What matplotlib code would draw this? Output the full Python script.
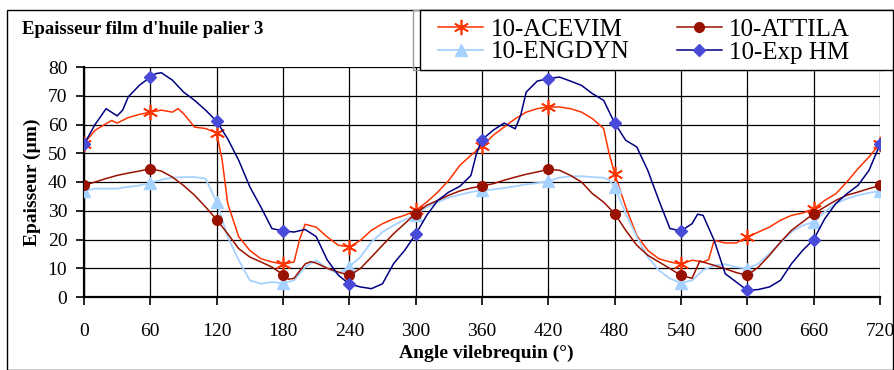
import numpy as np
import matplotlib
matplotlib.use("Agg")
import matplotlib.pyplot as plt
from matplotlib.patches import Rectangle

plt.rcParams['font.family'] = ['Liberation Serif', 'DejaVu Serif']

# donnees (angle en degres, epaisseur en um)
acevim_angle = [0, 10, 20, 25, 30, 40, 50, 60, 70, 80, 85, 90, 100, 110, 120, 125, 130, 140, 150, 160,
                170, 180, 190, 195, 200, 210, 220, 230, 240, 250, 260, 270, 280, 290, 300, 310, 320, 330,
                340, 350, 360, 370, 380, 390, 400, 410, 420, 430, 440, 450, 460, 470, 475, 480, 490, 500,
                510, 520, 530, 540, 550, 560, 565, 570, 580, 590, 600, 610, 620, 630, 640, 650, 660, 670,
                680, 690, 700, 710, 720]
acevim = [53.3, 58, 60.3, 61.4, 60.5, 62.4, 63.5, 64.3, 65, 64.3, 65.5, 63.8, 59.1, 58.6, 57, 47.5, 32.5, 20.9,
          16.2, 13.3, 12.2, 11.4, 12.2, 20, 25.3, 24.3, 20.9, 18, 17.4, 19.7, 23.2, 25.5, 27.2, 28.4, 30.1,
          33, 36.5, 40.6, 45.8, 49.3, 52.4, 56.2, 59.1, 62, 64.3, 65.5, 66.1, 66.1, 65.5, 64.3, 62, 58.6, 49.9,
          42.9, 31.3, 21.4, 16.2, 13.3, 12.2, 11.4, 12.8, 12.2, 13, 19.7, 18.8, 18.8, 20.9, 22.6, 24.3, 26.7,
          28.4, 29.2, 30.7, 33.6, 35.9, 40, 44.6, 48.7, 53.3]

attila_angle = [0, 10, 20, 30, 40, 50, 60, 70, 80, 90, 100, 110, 120, 130, 140, 150, 160, 170, 180, 185,
                190, 200, 205, 210, 220, 230, 240, 250, 260, 270, 280, 290, 300, 310, 320, 330, 340, 350,
                360, 370, 380, 390, 400, 410, 420, 430, 440, 450, 460, 470, 480, 490, 500, 510, 520, 530,
                540, 550, 557, 570, 580, 590, 600, 610, 620, 630, 640, 650, 660, 670, 680, 690, 700, 710, 720]
attila = [38.8, 40, 41.2, 42.3, 43.1, 43.8, 44.6, 43.8, 41.7, 38.8, 35.4, 31.3, 26.9, 22, 16.8, 13.9, 12.2,
          10.4, 7.8, 6.2, 6.5, 11.5, 12.3, 11.8, 10, 8.7, 7.5, 9.9, 13.9, 18, 22, 25.5, 29, 31.9, 33.6, 35.4,
          36.9, 37.9, 38.6, 39.4, 40.6, 41.7, 42.7, 43.5, 44.4, 44.1, 42.3, 40, 35.9, 33, 29, 23.2, 18, 14.5,
          12.2, 9.9, 7.5, 6.5, 12.5, 11, 9.8, 8.5, 7.5, 10.4, 14.5, 19.1, 23.2, 26.1, 29, 31.3, 33.6, 35.4,
          36.5, 37.7, 38.8]

engdyn_angle = [0, 10, 20, 30, 40, 50, 60, 70, 80, 90, 100, 110, 115, 120, 130, 140, 150, 160, 170, 180,
                190, 200, 210, 220, 230, 240, 250, 260, 270, 280, 290, 300, 310, 320, 330, 340, 350, 360,
                370, 380, 390, 400, 410, 420, 430, 440, 450, 460, 470, 475, 480, 490, 500, 510, 520, 530,
                540, 550, 560, 570, 580, 590, 600, 610, 620, 630, 640, 650, 660, 670, 680, 690, 700, 710, 720]
engdyn = [36.9, 37.7, 37.7, 37.7, 38.3, 38.8, 39.7, 40.8, 41.5, 41.7, 41.7, 41.2, 37.1, 33, 20.9, 12.8, 5.8,
          4.6, 5.2, 4.8, 5.8, 10.4, 12.8, 9.9, 8.1, 10.6, 13.9, 19.1, 22.6, 24.9, 26.9, 28.6, 31.3, 33, 34.6,
          35.6, 36.5, 37.1, 37.4, 37.9, 38.5, 39.2, 39.6, 40.3, 41.5, 42, 42, 41.7, 41.5, 40.6, 38.3, 29,
          20.9, 13.9, 9.3, 6.4, 4.9, 5.8, 9.3, 11, 11.4, 10.4, 9.9, 11.6, 15.1, 18.8, 22.6, 24.9, 26.1, 29.6,
          32.5, 34.2, 35.4, 36.2, 36.9]

exphm_angle = [0, 10, 20, 30, 35, 40, 50, 60, 65, 70, 80, 90, 100, 110, 120, 130, 140, 150, 160, 170, 180,
               190, 200, 210, 220, 230, 240, 250, 260, 270, 280, 290, 300, 310, 320, 330, 340, 350, 355,
               360, 370, 380, 390, 395, 400, 410, 420, 430, 440, 450, 460, 470, 480, 490, 500, 510, 520,
               530, 540, 550, 555, 560, 570, 580, 590, 600, 610, 620, 630, 640, 650, 660, 670, 680, 690,
               700, 710, 720]
exphm = [53.1, 60, 65.5, 63, 65, 69.6, 73.6, 76.5, 77.7, 78, 75.4, 71.3, 68.4, 65, 61.1, 55, 47.5, 38.3, 31.3,
         23.8, 23, 22.6, 23.5, 21, 12.9, 7.6, 4.5, 3.5, 2.9, 4.6, 11.6, 16.2, 21.8, 28.4, 33.6, 36.5, 38.5,
         42.3, 49.9, 54.7, 58, 60.5, 58.5, 63.2, 71.3, 75.1, 76, 76.5, 75.1, 73.6, 70.7, 68.4, 60.5, 54.5,
         52.2, 44, 33.6, 23.8, 23, 25.5, 28.8, 28.4, 19.7, 8.1, 5.2, 2.3, 2.6, 3.5, 5.8, 11.6, 16.2, 20,
         27.2, 32.5, 35.9, 38.8, 44, 53.1]

xticks = list(range(0, 721, 60))
yticks = list(range(0, 81, 10))


def marques(angles):
    return [i for i, a in enumerate(angles) if a % 60 == 0]


fig = plt.figure(figsize=(8.94, 3.70), dpi=100)
ax = fig.add_axes([84 / 894, 1 - 297 / 370, 796 / 894, 230 / 370])

ax.plot(acevim_angle, acevim, color='#FF3300', lw=1.1, marker=(6, 2, 0), ms=11, mew=1.2,
        markevery=marques(acevim_angle), label='10-ACEVIM', zorder=3)
ax.plot(engdyn_angle, engdyn, color='#A6D2FF', lw=1.3, marker='^', ms=8,
        markevery=marques(engdyn_angle), label='10-ENGDYN', zorder=3)
ax.plot(attila_angle, attila, color='#991100', lw=1.1, marker='o', ms=7,
        markevery=marques(attila_angle), label='10-ATTILA', zorder=3)
ax.plot(exphm_angle, exphm, color='#000080', lw=1.1, marker='D', ms=6.5, mfc='#4A4AD8', mec='#4A4AD8',
        markevery=marques(exphm_angle), label='10-Exp HM', zorder=3)

ax.set_xlim(0, 720)
ax.set_ylim(0, 80)
ax.set_xticks(xticks)
ax.set_yticks(yticks)
ax.grid(True, color='black', lw=0.9)
ax.set_axisbelow(True)
for s in ['top', 'right']:
    ax.spines[s].set_visible(False)
for s in ['left', 'bottom']:
    ax.spines[s].set_linewidth(1.6)
ax.tick_params(axis='both', direction='out', length=6, width=1.2, labelsize=14)
ax.tick_params(axis='x', pad=13)
ax.tick_params(axis='y', pad=6)
ax.margins(0)
for lab in ax.get_xticklabels() + ax.get_yticklabels():
    lab.set_clip_on(False)

fig.text(22 / 894, 1 - 30 / 370, "Epaisseur film d'huile palier 3", fontsize=13.5,
         fontweight='bold', ha='left', va='center')
fig.text(32 / 894, 1 - 182 / 370, "Epaisseur (µm)", fontsize=14, fontweight='bold',
         rotation=90, ha='center', va='center')
fig.text(486 / 894, 1 - 353 / 370, "Angle vilebrequin (°)", fontsize=14, fontweight='bold',
         ha='center', va='center')

# cadre exterieur, ombre et cadre de la legende
fig.patches.append(Rectangle((7 / 894, 0), 886 / 894, 360 / 370, transform=fig.transFigure,
                             fill=False, edgecolor='black', lw=1))
fig.patches.append(Rectangle((413 / 894, 1 - 70 / 370), 470 / 894, 60 / 370, transform=fig.transFigure,
                             fill=False, edgecolor='#999999', lw=1, zorder=5))
fig.patches.append(Rectangle((420 / 894, 1 - 70 / 370), 473 / 894, 60 / 370, transform=fig.transFigure,
                             facecolor='white', edgecolor='black', lw=1, zorder=6))

leg = fig.legend(loc='center left', ncol=2, bbox_to_anchor=(438 / 894, 1 - 41 / 370),
                 fontsize=18, frameon=False, handlelength=1.8, columnspacing=1.9,
                 labelspacing=0.0, borderpad=0.0, borderaxespad=0.0, handletextpad=0.3)
leg.set_zorder(10)

fig.savefig('out.png', dpi=100)
